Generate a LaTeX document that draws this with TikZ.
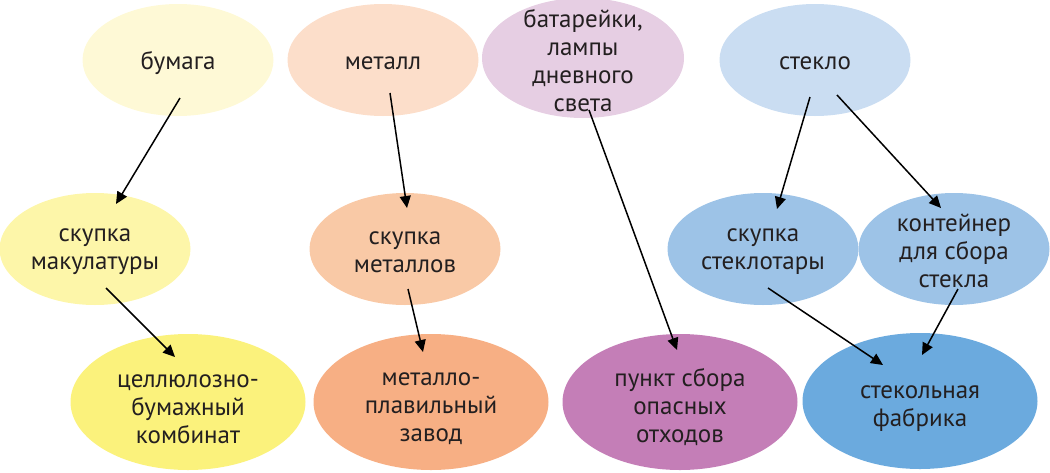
\documentclass[tikz,border=0pt]{standalone}
\usepackage{fontspec}
\setmainfont{PT Sans}
\usetikzlibrary{shapes.geometric,arrows.meta}
\definecolor{txt}{HTML}{231F20}
\definecolor{yA}{HTML}{FEF9D6}
\definecolor{yB}{HTML}{FDF6A9}
\definecolor{yC}{HTML}{FBF27C}
\definecolor{oA}{HTML}{FCDECA}
\definecolor{oB}{HTML}{F9C9A6}
\definecolor{oC}{HTML}{F7AF84}
\definecolor{pA}{HTML}{E6CEE3}
\definecolor{pC}{HTML}{C47EB7}
\definecolor{bA}{HTML}{CADDF2}
\definecolor{bB}{HTML}{9DC3E7}
\definecolor{bC}{HTML}{6BAADE}
\tikzset{
  blob/.style={ellipse, inner sep=0pt},
  small/.style={blob, minimum width=191pt, minimum height=112pt},
  big/.style={blob, minimum width=235pt, minimum height=136pt},
  lab/.style={align=center, text=txt, inner sep=0pt,
    font=\fontsize{25}{28}\selectfont},
  link/.style={-{Triangle[length=12pt,width=11pt]}, line width=1.5pt, black}
}
\begin{document}
\begin{tikzpicture}[x=1pt,y=-1pt]
\useasboundingbox (0,0) rectangle (1050,472);
% top row
\node[small, fill=yA, label={[lab,yshift=-3pt]center:бумага}] (bum) at (178,60) {};
\node[small, fill=oA, label={[lab,yshift=-3pt]center:металл}] (met) at (383,60) {};
\node[small, fill=pA, minimum width=202pt, minimum height=120pt,
  label={[lab,yshift=-3pt]center:{батарейки,\\лампы\\дневного\\света}}] (bat) at (583,58) {};
\node[small, fill=bA, label={[lab,yshift=-3pt]center:стекло}] (stk) at (815,60) {};
% middle row
\node[small, fill=yB, label={[lab,yshift=-3pt]center:{скупка\\макулатуры}}] (mak) at (95,249) {};
\node[small, fill=oB, label={[lab,yshift=-3pt]center:{скупка\\металлов}}] (smet) at (405,249) {};
\node[small, fill=bB, label={[lab,yshift=-3pt]center:{скупка\\стеклотары}}] (star) at (763,249) {};
\node[small, fill=bB, label={[lab,yshift=-2pt]center:{контейнер\\для сбора\\стекла}}] (kont) at (954,249) {};
% bottom row
\node[big, fill=yC, label={[lab,yshift=-7pt]center:{целлюлозно-\\бумажный\\комбинат}}] (cbk) at (188,402) {};
\node[big, fill=oC, label={[lab,yshift=-7pt]center:{металло-\\плавильный\\завод}}] (mpz) at (431,402) {};
\node[big, fill=pC, label={[lab,yshift=-5pt]center:{пункт сбора\\опасных\\отходов}}] (pso) at (680,402) {};
\node[big, fill=bC, label={[lab,yshift=-8pt]center:{стекольная\\фабрика}}] (sf) at (920,401) {};
% arrow end points
\coordinate (a1) at (180,98);  \coordinate (b1) at (116,204);
\coordinate (a2) at (390,93);  \coordinate (b2) at (407,208);
\coordinate (a3) at (589,110); \coordinate (b3) at (677,350);
\coordinate (a4) at (810,97);  \coordinate (b4) at (777,209);
\coordinate (a5) at (837,95);  \coordinate (b5) at (941,208);
\coordinate (a6) at (106,288); \coordinate (b6) at (175,357);
\coordinate (a7) at (408,289); \coordinate (b7) at (423,352);
\coordinate (a8) at (768,288); \coordinate (b8) at (883,365);
\coordinate (a9) at (958,289); \coordinate (b9) at (922,355);
\draw[link] (a1) -- (b1);
\draw[link] (a2) -- (b2);
\draw[link] (a3) -- (b3);
\draw[link] (a4) -- (b4);
\draw[link] (a5) -- (b5);
\draw[link] (a6) -- (b6);
\draw[link] (a7) -- (b7);
\draw[link] (a8) -- (b8);
\draw[link] (a9) -- (b9);
\end{tikzpicture}
\end{document}
